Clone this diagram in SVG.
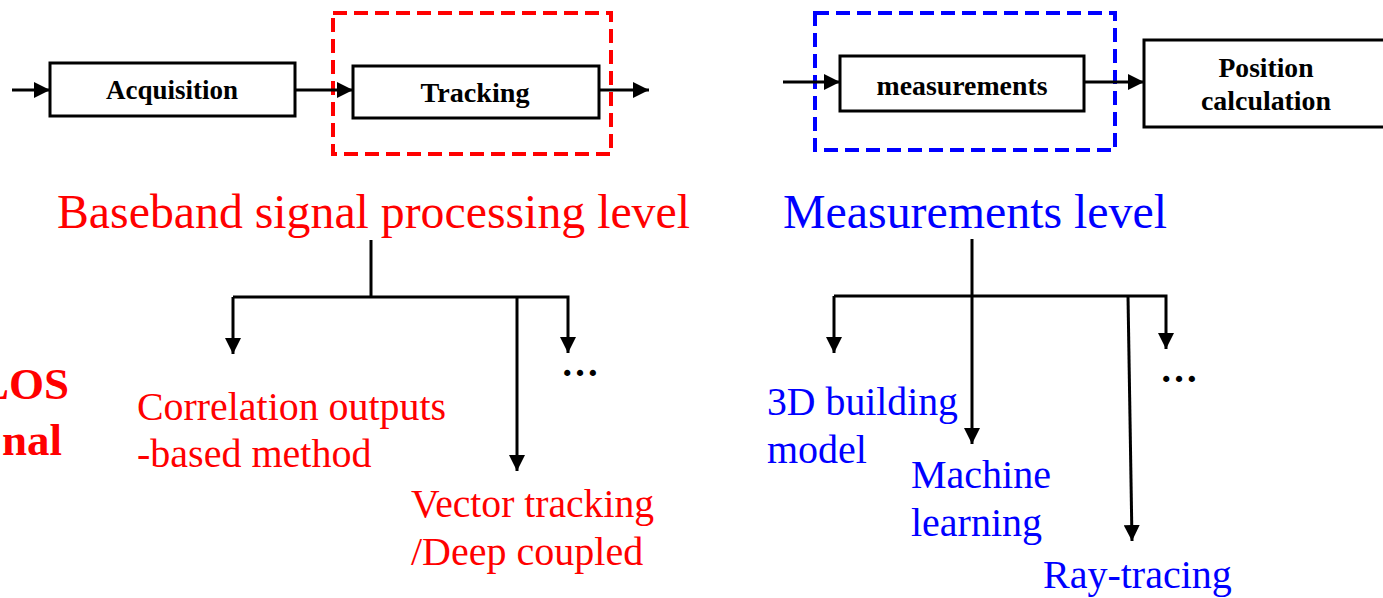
<svg xmlns="http://www.w3.org/2000/svg" width="1383" height="598" viewBox="0 0 1383 598">
  <style>
    .box { fill: #fff; stroke: #000; stroke-width: 3; }
    .blabel { font-family: "Liberation Serif", "Times New Roman", serif; font-weight: bold; font-size: 27px; fill: #000; text-anchor: middle; }
    .link { fill: none; stroke: #000; stroke-width: 3; }
    .arrow { fill: none; stroke: #000; stroke-width: 3; marker-end: url(#head); }
    .red { font-family: "Liberation Serif", "Times New Roman", serif; font-size: 40px; fill: #ff0000; }
    .blue { font-family: "Liberation Serif", "Times New Roman", serif; font-size: 40px; fill: #0000ff; }
    .title { font-size: 47.5px; }
    .dots { font-family: "Liberation Serif", "Times New Roman", serif; font-size: 38px; font-weight: bold; fill: #000; }
    .side { font-family: "Liberation Serif", "Times New Roman", serif; font-size: 45px; font-weight: bold; fill: #ff0000; text-anchor: end; }
    .dash-red { fill: none; stroke: #ff0000; stroke-width: 4; stroke-dasharray: 14 7; }
    .dash-blue { fill: none; stroke: #0000ff; stroke-width: 4; stroke-dasharray: 14 7; }
  </style>
  <defs>
    <marker id="head" markerUnits="userSpaceOnUse" markerWidth="16" markerHeight="16" refX="16" refY="8" orient="auto">
      <path d="M0,0 L16,8 L0,16 Z" fill="#000"/>
    </marker>
  </defs>

  <rect width="1383" height="598" fill="#fff"/>

  <!-- baseband pipeline -->
  <g id="acquisition">
    <rect class="box" x="50" y="63" width="245" height="53"/>
    <text class="blabel" x="172" y="99" textLength="132" lengthAdjust="spacingAndGlyphs">Acquisition</text>
  </g>
  <g id="tracking">
    <rect class="box" x="353" y="66" width="246" height="52"/>
    <text class="blabel" x="475" y="102" textLength="109" lengthAdjust="spacingAndGlyphs">Tracking</text>
  </g>
  <g id="baseband-frame">
    <rect class="dash-red" x="333" y="13" width="278" height="141"/>
  </g>

  <!-- measurement pipeline -->
  <g id="measurements">
    <rect class="box" x="840" y="56" width="244" height="55"/>
    <text class="blabel" x="962" y="95" textLength="171" lengthAdjust="spacingAndGlyphs">measurements</text>
  </g>
  <g id="position">
    <rect class="box" x="1144" y="40" width="260" height="87"/>
    <text class="blabel" x="1266" y="77" textLength="95" lengthAdjust="spacingAndGlyphs">Position</text>
    <text class="blabel" x="1266" y="110" textLength="130" lengthAdjust="spacingAndGlyphs">calculation</text>
  </g>
  <g id="measurement-frame">
    <rect class="dash-blue" x="815" y="13" width="300" height="137"/>
  </g>

  <!-- level headings -->
  <g id="baseband-level">
    <text class="red title" x="57" y="228" textLength="633" lengthAdjust="spacingAndGlyphs">Baseband signal processing level</text>
  </g>
  <g id="measurements-level">
    <text class="blue title" x="783" y="228" textLength="384" lengthAdjust="spacingAndGlyphs">Measurements level</text>
  </g>

  <!-- side label, running off the left edge -->
  <g id="side-label">
    <text class="side" x="69" y="399">LOS</text>
    <text class="side" x="62" y="455">nal</text>
  </g>

  <!-- baseband methods -->
  <g id="correlation">
    <text class="red" x="137" y="420" textLength="309" lengthAdjust="spacingAndGlyphs">Correlation outputs</text>
    <text class="red" x="137" y="467">-based method</text>
  </g>
  <g id="vector-tracking">
    <text class="red" x="411" y="517" textLength="243" lengthAdjust="spacingAndGlyphs">Vector tracking</text>
    <text class="red" x="411" y="565">/Deep coupled</text>
  </g>
  <g id="baseband-more">
    <text class="dots" x="561" y="376">…</text>
  </g>

  <!-- measurement methods -->
  <g id="building-model">
    <text class="blue" x="767" y="415" textLength="191" lengthAdjust="spacingAndGlyphs">3D building</text>
    <text class="blue" x="767" y="463">model</text>
  </g>
  <g id="machine-learning">
    <text class="blue" x="911" y="488">Machine</text>
    <text class="blue" x="911" y="536">learning</text>
  </g>
  <g id="ray-tracing">
    <text class="blue" x="1043" y="588">Ray-tracing</text>
  </g>
  <g id="measurement-more">
    <text class="dots" x="1160" y="382">…</text>
  </g>

  <!-- connectors -->
  <g id="connectors">
    <line class="arrow" x1="12" y1="90" x2="50" y2="90"/>
    <line class="arrow" x1="295" y1="90" x2="353" y2="90"/>
    <line class="arrow" x1="599" y1="90" x2="649" y2="90"/>

    <line class="arrow" x1="783" y1="82" x2="840" y2="82"/>
    <line class="arrow" x1="1084" y1="82" x2="1144" y2="82"/>

    <line class="link" x1="371" y1="240" x2="371" y2="297"/>
    <polyline class="link" points="233,297 568,297 568,353" marker-end="url(#head)"/>
    <line class="arrow" x1="233" y1="297" x2="233" y2="354"/>
    <line class="arrow" x1="517" y1="297" x2="517" y2="471"/>

    <line class="arrow" x1="972" y1="239" x2="972" y2="444"/>
    <polyline class="link" points="834,296 1166,296 1166,349" marker-end="url(#head)"/>
    <line class="arrow" x1="834" y1="296" x2="834" y2="353"/>
    <line class="arrow" x1="1128" y1="296" x2="1132" y2="541"/>
  </g>
</svg>
